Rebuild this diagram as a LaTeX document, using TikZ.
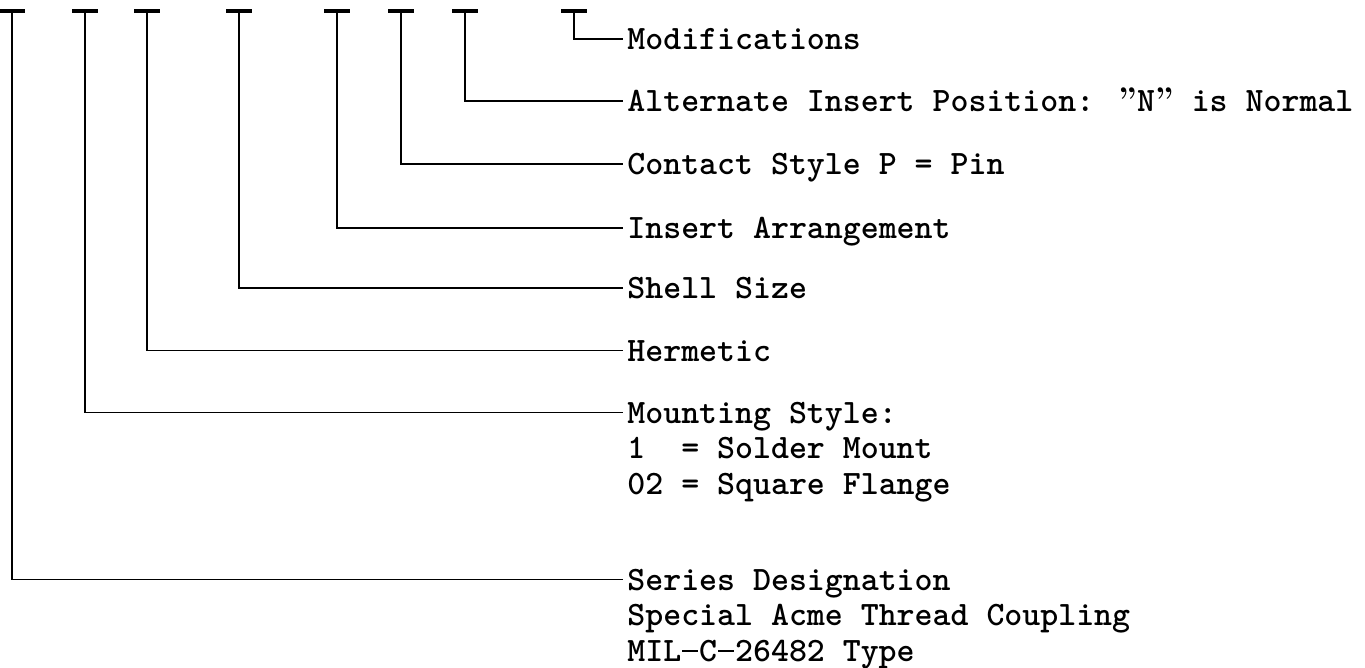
\documentclass[tikz,border=0pt]{standalone}
\usepackage{tikz}
\usetikzlibrary{positioning}
\newcommand{\partdash}{\makebox[0.525em][c]{\rule[0.26em]{0.46em}{0.07em}}}
\newcommand{\partquote}{\textrm{”}}

\begin{document}
\begin{tikzpicture}[x=0.5pt,y=-0.5pt,
    lbl/.style={anchor=base west, inner xsep=2pt, inner ysep=0pt, align=left,
      font=\fontsize{17.1}{17.75}\selectfont\ttfamily\bfseries},
    lead/.style={line width=0.9pt},
    bar/.style={line width=1.8pt}]
    \useasboundingbox (0,0) rectangle (1365,668);
    % one tick per field of the part number
    \coordinate (tSer) at (12,11);
    \coordinate (tMnt) at (85,11);
    \coordinate (tHer) at (147,11);
    \coordinate (tShl) at (239,11);
    \coordinate (tIns) at (337,11);
    \coordinate (tCon) at (401,11);
    \coordinate (tAlt) at (465,11);
    \coordinate (tMod) at (574,11);
    \draw[bar] ([xshift=-6.5pt]tSer) -- ([xshift=6.5pt]tSer);
    \draw[bar] ([xshift=-6.5pt]tMnt) -- ([xshift=6.5pt]tMnt);
    \draw[bar] ([xshift=-6.5pt]tHer) -- ([xshift=6.5pt]tHer);
    \draw[bar] ([xshift=-6.5pt]tShl) -- ([xshift=6.5pt]tShl);
    \draw[bar] ([xshift=-6.5pt]tIns) -- ([xshift=6.5pt]tIns);
    \draw[bar] ([xshift=-6.5pt]tCon) -- ([xshift=6.5pt]tCon);
    \draw[bar] ([xshift=-6.5pt]tAlt) -- ([xshift=6.5pt]tAlt);
    \draw[bar] ([xshift=-6.5pt]tMod) -- ([xshift=6.5pt]tMod);
    % descriptions (base of a three-line label is its last line)
    \node[lbl] (mod) at (623,50) {Modifications};
    \node[lbl] (alt) at (623,112) {Alternate Insert Position: \partquote N\partquote{} is Normal};
    \node[lbl] (con) at (623,175) {Contact Style P = Pin};
    \node[lbl] (ins) at (623,239) {Insert Arrangement};
    \node[lbl] (shl) at (623,299) {Shell Size};
    \node[lbl] (her) at (623,361) {Hermetic};
    \node[lbl] (mnt) at (623,494) {Mounting Style:\\1~~= Solder Mount\\02 = Square Flange};
    \node[lbl] (ser) at (623,661) {Series Designation\\Special Acme Thread Coupling\\MIL\partdash C\partdash 26482 Type};
    % leaders
    \draw[lead] (tMod) |- ([yshift=5.3pt]mod.base west);
    \draw[lead] (tAlt) |- ([yshift=5.3pt]alt.base west);
    \draw[lead] (tCon) |- ([yshift=5.3pt]con.base west);
    \draw[lead] (tIns) |- ([yshift=5.3pt]ins.base west);
    \draw[lead] (tShl) |- ([yshift=5.3pt]shl.base west);
    \draw[lead] (tHer) |- ([yshift=5.3pt]her.base west);
    \draw[lead] (tMnt) |- ([yshift=5.3pt+2*17.75pt]mnt.base west);
    \draw[lead] (tSer) |- ([yshift=5.3pt+2*17.75pt]ser.base west);
\end{tikzpicture}
\end{document}
